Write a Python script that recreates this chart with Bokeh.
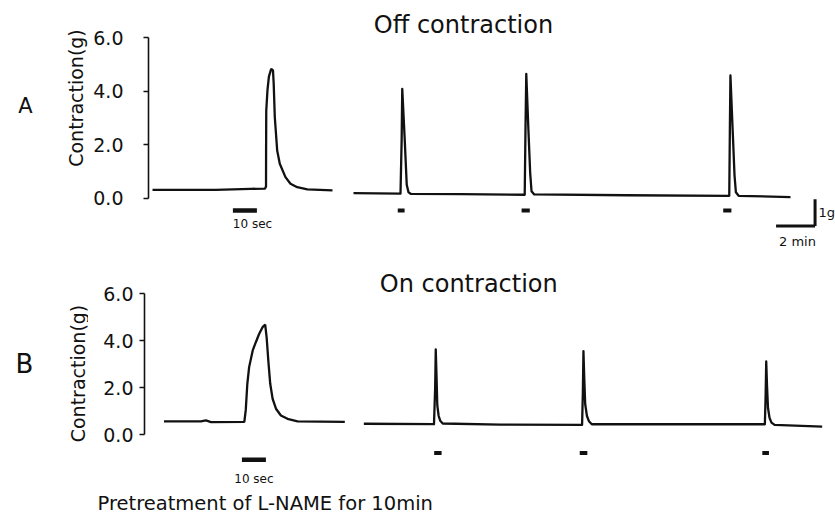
import numpy as np
from bokeh.plotting import figure
from bokeh.models import Range1d, FixedTicker, Label
from bokeh.layouts import column, row
from bokeh.embed import file_html
from bokeh.resources import INLINE

# ------------------------------------------------------------------ data
y_ticks = [0, 2, 4, 6]
y_tick_labels = {0: "0.0", 2: "2.0", 4: "4.0", 6: "6.0"}

# Panel A (Off contraction) - segment 1, fast chart speed (time in s)
a1_t = [0, 26.3, 40.8, 46.9, 47.3, 47.33, 47.4, 47.9, 48.5, 49.46, 50.2,
        50.5, 50.96, 51.96, 53.04, 55.4, 57.5, 60.3, 64.5, 75]
a1_g = [0.31, 0.31, 0.35, 0.36, 0.44, 1.78, 3.28, 4.03, 4.55, 4.84, 4.78,
        4.28, 3.03, 1.78, 1.29, 0.79, 0.54, 0.41, 0.33, 0.29]
a1_stim_start = [33.5]
a1_stim_end = [43.5]

# Panel A - segment 2, slow chart speed (time in min)
a2_t = [0, 2.41, 2.47, 2.50, 2.62, 2.73, 2.82, 2.95, 5.5, 8.78, 8.82, 8.86,
        8.97, 9.06, 9.13, 9.27, 14.0, 19.27, 19.30, 19.33, 19.45, 19.54,
        19.61, 19.75, 22.41]
a2_g = [0.19, 0.17, 2.2, 4.09, 2.30, 0.50, 0.22, 0.16, 0.15, 0.13, 2.6, 4.65,
        2.55, 0.95, 0.26, 0.14, 0.11, 0.09, 2.5, 4.59, 2.45, 0.85, 0.22, 0.09,
        0.04]
a2_stim_start = [2.27, 8.62, 18.96]
a2_stim_end = [2.62, 9.04, 19.38]

# Panel B (On contraction) - segment 1 (time in s)
b1_t = [0, 15.4, 17.5, 19.6, 33.5, 34.1, 34.75, 35.5, 37.0, 38.3, 39.7,
        41.1, 42.2, 42.8, 43.5, 44.3, 45.3, 46.7, 48.75, 51.5, 55.7, 75.4]
b1_g = [0.57, 0.57, 0.61, 0.54, 0.55, 1.06, 2.17, 2.88, 3.59, 3.94, 4.30,
        4.58, 4.69, 4.15, 3.16, 2.17, 1.53, 1.11, 0.82, 0.68, 0.57, 0.55]
b1_stim_start = [32.5]
b1_stim_end = [42.5]

# Panel B - segment 2 (time in min)
b2_t = [0, 3.60, 3.66, 3.69, 3.73, 3.77, 3.84, 3.92, 4.05, 7.0, 11.20,
        11.24, 11.27, 11.31, 11.36, 11.45, 11.55, 11.70, 16.0, 20.58, 20.62,
        20.65, 20.69, 20.74, 20.82, 20.92, 21.08, 23.52]
b2_g = [0.47, 0.45, 2.0, 3.63, 2.5, 1.25, 0.80, 0.60, 0.48, 0.43, 0.42,
        1.8, 3.56, 2.45, 1.30, 0.80, 0.58, 0.45, 0.45, 0.45, 1.7, 3.12,
        2.1, 1.15, 0.72, 0.52, 0.42, 0.35]
b2_stim_start = [3.61, 11.08, 20.45]
b2_stim_end = [3.99, 11.47, 20.79]

# calibration bars
cal_minutes = 2
cal_grams = 1

# ------------------------------------------------------------------ layout
TOTAL_W = 835
LAB_W = 88
FONT = "DejaVu Sans"
INK = "#111111"


def base_fig(w, h, xr, yr):
    p = figure(width=w, height=h, output_backend="svg", toolbar_location=None,
               x_range=xr, y_range=yr, x_axis_location=None,
               y_axis_location=None, min_border_left=0, min_border_right=0,
               min_border_top=0, min_border_bottom=0)
    p.outline_line_color = None
    p.grid.visible = False
    p.background_fill_color = "white"
    p.border_fill_color = "white"
    return p


def make_panel(fig_top, h, axis_x, y0_page, px_per_g, seg1_x0, seg2_x0,
               px_per_s, px_per_min, standoff):
    fig_left = LAB_W
    width = TOTAL_W - LAB_W
    left = axis_x - fig_left
    y_hi = (y0_page - fig_top) / px_per_g
    y_lo = (y0_page - (fig_top + h)) / px_per_g
    x_lo, x_hi = axis_x, fig_left + width
    p = figure(width=width, height=h, output_backend="svg",
               toolbar_location=None,
               x_range=Range1d(x_lo, x_hi), y_range=Range1d(y_lo, y_hi),
               x_axis_location=None, y_axis_location="left",
               min_border_left=int(round(left)), min_border_right=0,
               min_border_top=0, min_border_bottom=0)
    p.extra_x_ranges = {
        "sec": Range1d((x_lo - seg1_x0) / px_per_s, (x_hi - seg1_x0) / px_per_s),
        "min": Range1d((x_lo - seg2_x0) / px_per_min, (x_hi - seg2_x0) / px_per_min),
    }
    p.outline_line_color = None
    p.grid.visible = False
    p.background_fill_color = "white"
    p.border_fill_color = "white"
    ax = p.yaxis[0]
    ax.ticker = FixedTicker(ticks=y_ticks)
    ax.major_label_overrides = y_tick_labels
    ax.bounds = (0, 6)
    ax.axis_line_color = INK
    ax.axis_line_width = 1.6
    ax.major_tick_line_color = INK
    ax.major_tick_line_width = 1.4
    ax.major_tick_out = 5
    ax.major_tick_in = 0
    ax.minor_tick_out = 0
    ax.minor_tick_in = 0
    ax.major_label_standoff = standoff
    ax.major_label_text_font = FONT
    ax.major_label_text_font_size = "19px"
    ax.major_label_text_color = INK

    def gy(page_y):
        return (y0_page - page_y) / px_per_g

    lab = base_fig(LAB_W, h, Range1d(0, LAB_W), Range1d(y_lo, y_hi))
    return p, lab, gy


def txt(p, x, y, s, size, align="center", baseline="middle", angle=0.0):
    p.add_layout(Label(x=x, y=y, text=s, text_font=FONT,
                       text_font_size=size, text_align=align,
                       text_baseline=baseline, text_color=INK, angle=angle))


# ---------------- Panel A
pA, labA, gA = make_panel(fig_top=0, h=258, axis_x=148, y0_page=197.7,
                          px_per_g=26.73, seg1_x0=152, seg2_x0=353,
                          px_per_s=2.4, px_per_min=19.5, standoff=20)
pA.line(a1_t, a1_g, x_range_name="sec", line_width=2.3, color=INK)
pA.line(a2_t, a2_g, x_range_name="min", line_width=2.3, color=INK,
        line_join="round")
yb = gA(210)
pA.segment(a1_stim_start, [yb], a1_stim_end, [yb], x_range_name="sec",
           line_width=4.5, color=INK)
pA.segment(a2_stim_start, [yb] * 3, a2_stim_end, [yb] * 3,
           x_range_name="min", line_width=4, color=INK)
# calibration bar (2 min x 1 g)
cx, cy = 23.67, gA(225.5)
pA.segment([cx - cal_minutes, cx], [cy, cy], [cx, cx], [cy, cy + cal_grams],
           x_range_name="min", line_width=3, color=INK)

txt(pA, 463, gA(24), "Off contraction", "24px")
txt(pA, 252, gA(223), "10 sec", "12px")
txt(pA, 818, gA(212), "1g", "13px", align="left")
txt(pA, 797, gA(241), "2 min", "13px")
txt(labA, 25, gA(105), "A", "21px")
txt(labA, 75, gA(97.5), "Contraction(g)", "19px", angle=np.pi / 2)

# ---------------- Panel B
pB, labB, gB = make_panel(fig_top=258, h=232, axis_x=143.5, y0_page=434.3,
                          px_per_g=23.5, seg1_x0=163, seg2_x0=363,
                          px_per_s=2.4, px_per_min=19.5, standoff=6)
pB.line(b1_t, b1_g, x_range_name="sec", line_width=2.3, color=INK)
pB.line(b2_t, b2_g, x_range_name="min", line_width=2.3, color=INK,
        line_join="round")
yb1 = gB(459.3)
pB.segment(b1_stim_start, [yb1], b1_stim_end, [yb1], x_range_name="sec",
           line_width=4.5, color=INK)
yb2 = gB(452.5)
pB.segment(b2_stim_start, [yb2] * 3, b2_stim_end, [yb2] * 3,
           x_range_name="min", line_width=4, color=INK)

txt(pB, 468, gB(283.5), "On contraction", "24px")
txt(pB, 253, gB(478), "10 sec", "12px")
txt(labB, 24, gB(363), "B", "26px")
txt(labB, 77, gB(373), "Contraction(g)", "19px", angle=np.pi / 2)

# ---------------- caption strip
cap = base_fig(TOTAL_W, 30, Range1d(0, TOTAL_W), Range1d(520, 490))
txt(cap, 97, 503, "Pretreatment of L-NAME for 10min", "19.5px",
    align="left", baseline="middle")

layout = column(row(labA, pA, spacing=0), row(labB, pB, spacing=0), cap,
                spacing=0)
open("out.html", "w").write(file_html(layout, INLINE))
